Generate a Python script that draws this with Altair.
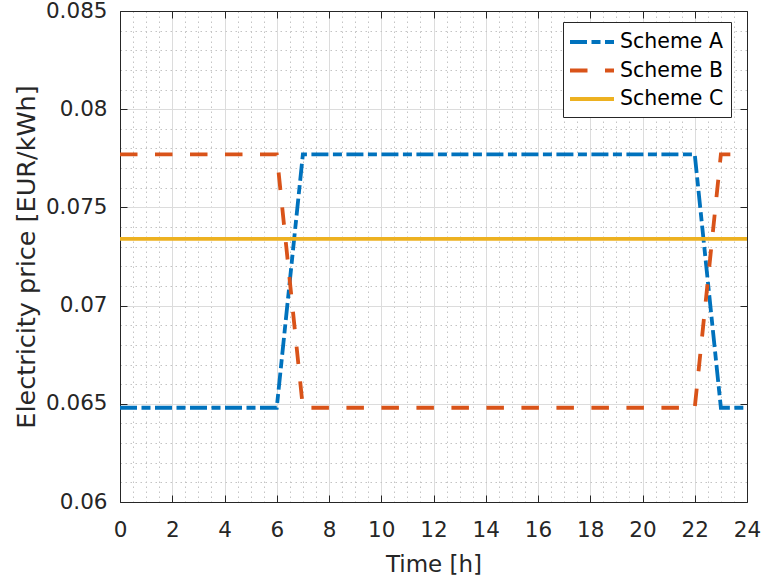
import altair as alt
import pandas as pd

hours = list(range(25))
scheme_a = [0.0648]*7 + [0.0777]*16 + [0.0648]*2
scheme_b = [0.0777]*7 + [0.0648]*16 + [0.0777]*2
scheme_c = [0.0734]*25
names = ["Scheme A", "Scheme B", "Scheme C"]
colors = ["#0072BD", "#D95319", "#EDB120"]
dashes = [[17, 4.5, 9, 4.5], [17.5, 17.5], [1, 0]]

x_major = list(range(0, 25, 2))
y_major = [0.06, 0.065, 0.07, 0.075, 0.08, 0.085]
x_minor = [h / 2 for h in range(1, 48) if h % 4 != 0]
y_minor = [round(0.06 + k * 0.001, 3) for k in range(1, 25) if k % 5 != 0]

rows = []
for n, vals in zip(names, [scheme_a, scheme_b, scheme_c]):
    for h, v in zip(hours, vals):
        rows.append({"time": h, "price": v, "scheme": n})
df = pd.DataFrame(rows)

W, H = 627, 491
FONT = "DejaVu Sans"
AX = "#262626"

xs = alt.Scale(domain=[0, 24], nice=False, zero=False)
ys = alt.Scale(domain=[0.06, 0.085], nice=False, zero=False)

base = alt.Chart(df)

def hidden_axis(values, orient, offset=0, ticks=False, domain=False, grid=False, **kw):
    d = dict(values=values, orient=orient, labels=False, ticks=ticks, domain=domain,
             grid=grid, title=None, domainColor=AX, tickColor=AX, tickSize=7,
             tickWidth=1, domainWidth=1)
    if offset:
        d["offset"] = offset
    d.update(kw)
    return alt.Axis(**d)

minor = base.mark_line(opacity=0).encode(
    x=alt.X("time:Q", scale=xs, axis=hidden_axis(x_minor, "bottom", grid=True,
            gridDash=[1.5, 3.5], gridColor="#c4c4c4", gridWidth=1)),
    y=alt.Y("price:Q", scale=ys, axis=hidden_axis(y_minor, "left", grid=True,
            gridDash=[1.5, 3.5], gridColor="#c4c4c4", gridWidth=1)),
    detail="scheme:N",
)

legend_kw = dict(orient="none", legendX=443, legendY=11, title=None,
                 symbolType="M-2,0H2", symbolSize=484, symbolStrokeWidth=3.8,
                 symbolOffset=9, labelOffset=15, rowPadding=4.5, padding=7,
                 strokeColor=AX, fillColor="white", labelFont=FONT,
                 labelFontSize=20.5, labelColor="black", cornerRadius=0)

main = base.mark_line(strokeWidth=3.8, strokeCap="butt").encode(
    x=alt.X("time:Q", scale=xs, axis=alt.Axis(
        values=x_major, orient="bottom", grid=True, gridColor="#dcdcdc", gridWidth=1,
        ticks=False, tickSize=0, domain=True, domainColor=AX, domainWidth=1,
        labelFont=FONT, labelFontSize=21.5, labelColor="#262626", labelPadding=17,
        title="Time [h]", titleFont=FONT, titleFontSize=23, titleFontWeight="normal",
        titleColor="#262626", titlePadding=13, labelFlush=False)),
    y=alt.Y("price:Q", scale=ys, axis=alt.Axis(
        values=y_major, orient="left", grid=True, gridColor="#dcdcdc", gridWidth=1,
        ticks=False, tickSize=0, domain=True, domainColor=AX, domainWidth=1,
        labelFont=FONT, labelFontSize=21.5, labelColor="#262626", labelPadding=13,
        format=".3~f", labelFlush=False,
        title="Electricity price [EUR/kWh]", titleFont=FONT, titleFontSize=25.5,
        titleFontWeight="normal", titleColor="#262626", titlePadding=6)),
    color=alt.Color("scheme:N", scale=alt.Scale(domain=names, range=colors),
        legend=alt.Legend(**legend_kw)),
    strokeDash=alt.StrokeDash("scheme:N", scale=alt.Scale(domain=names, range=dashes),
        legend=alt.Legend(**legend_kw)),
)

ticks_bl = base.mark_line(opacity=0).encode(
    x=alt.X("time:Q", scale=xs, axis=hidden_axis(x_major, "top", offset=-H, ticks=True)),
    y=alt.Y("price:Q", scale=ys, axis=hidden_axis(y_major, "right", offset=-W, ticks=True)),
    detail="scheme:N",
)

ticks_tr = base.mark_line(opacity=0).encode(
    x=alt.X("time:Q", scale=xs, axis=hidden_axis(x_major, "bottom", offset=-H, ticks=True, domain=True)),
    y=alt.Y("price:Q", scale=ys, axis=hidden_axis(y_major, "left", offset=-W, ticks=True, domain=True)),
    detail="scheme:N",
)

chart = alt.layer(minor, main, ticks_bl, ticks_tr).resolve_axis(
    x="independent", y="independent"
).properties(
    width=W, height=H,
    autosize=alt.AutoSizeParams(type="none"),
    padding={"left": 120, "top": 11, "right": 14, "bottom": 77},
    background="white",
).configure_view(stroke=None)

chart.save("out.html", embed_options={"renderer": "svg", "actions": False})
